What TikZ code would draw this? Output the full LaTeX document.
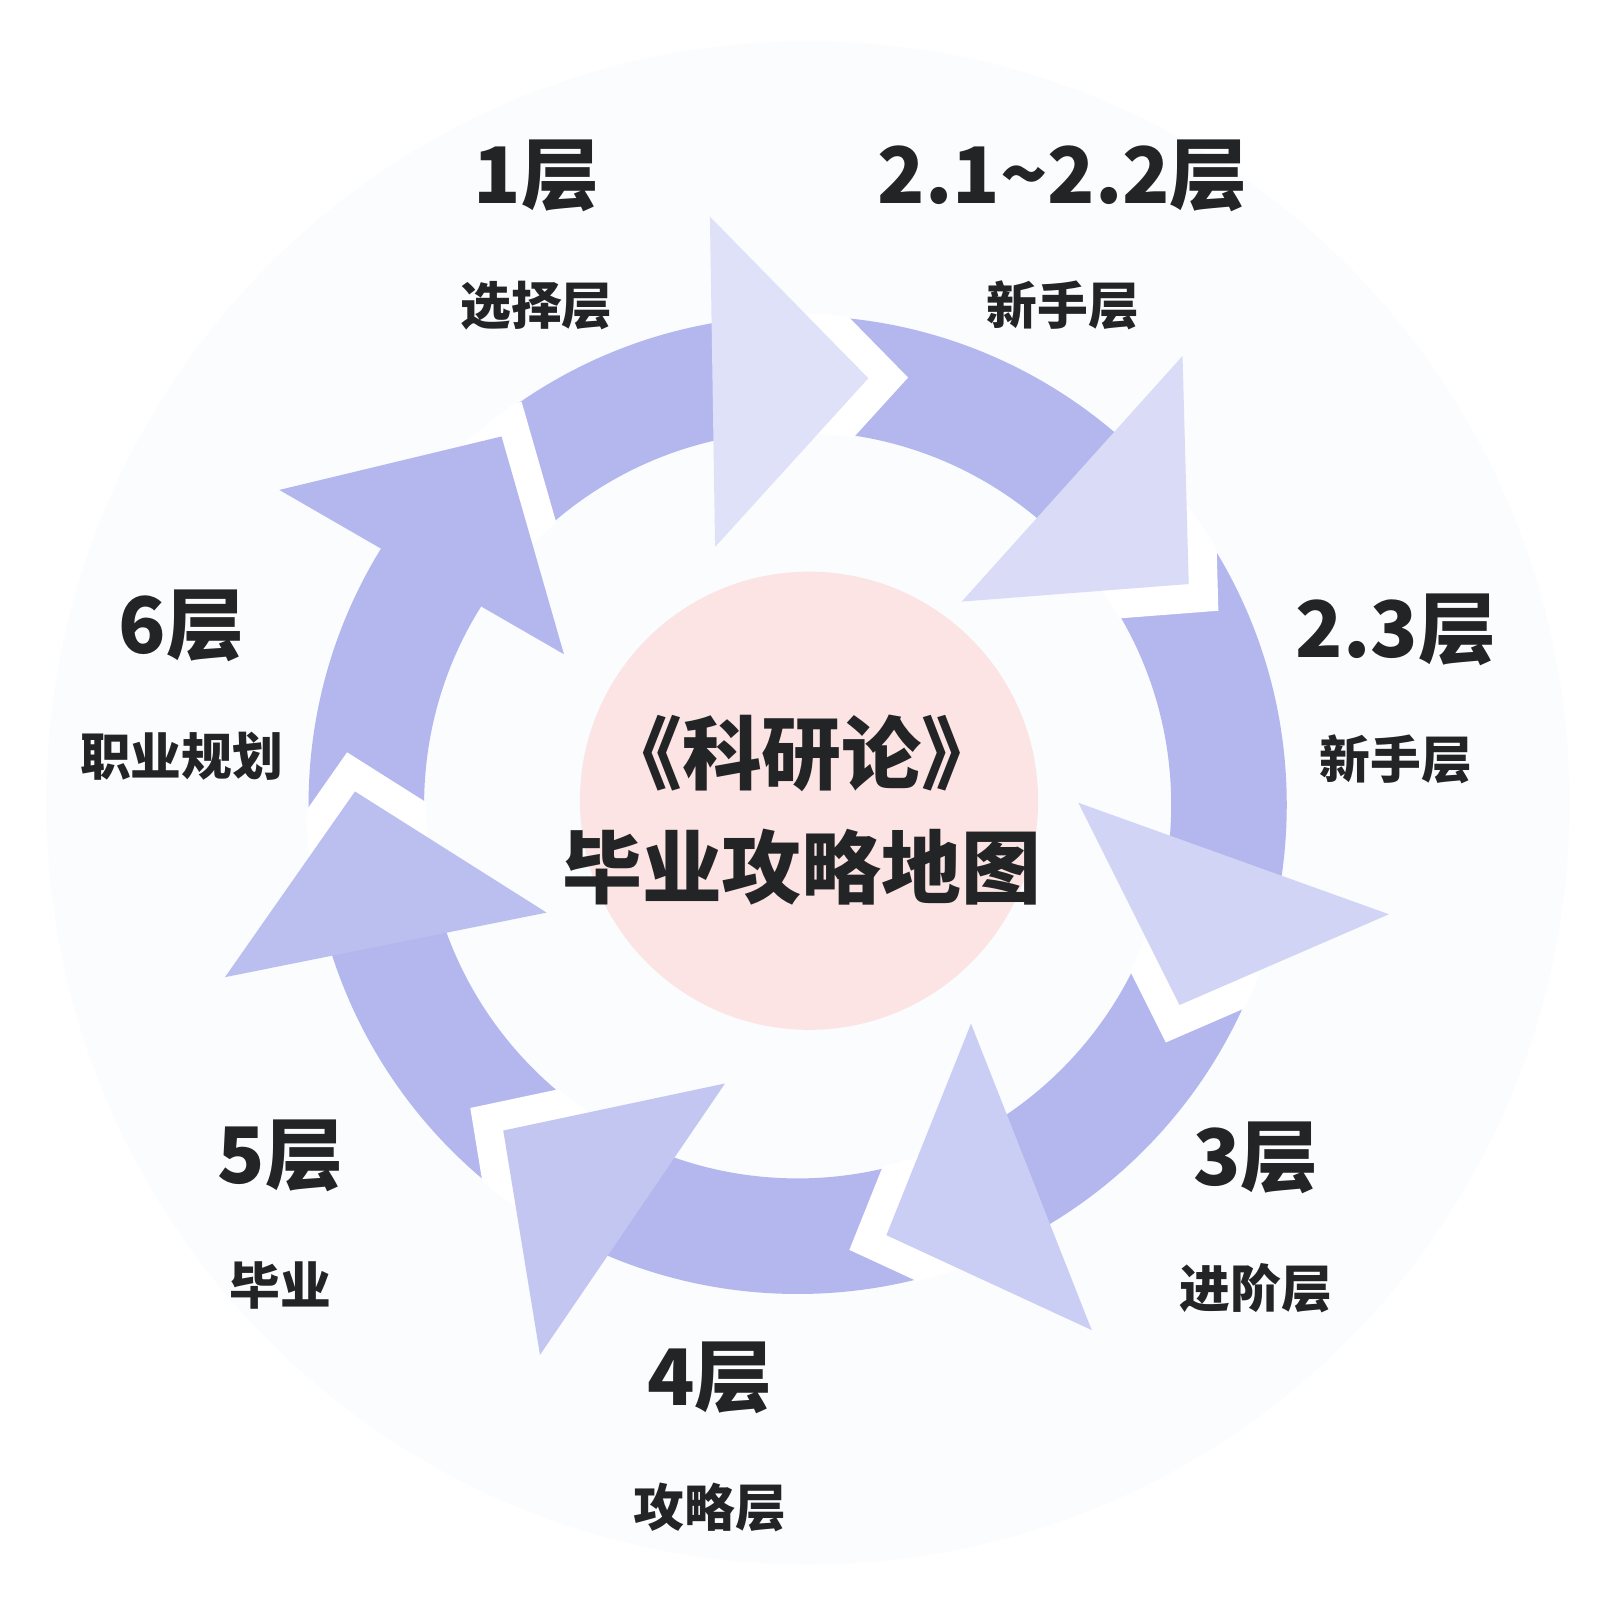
\documentclass[tikz,border=0pt]{standalone}
\usepackage{fontspec}
\setmainfont{Noto Sans CJK SC}
\usetikzlibrary{positioning}
\definecolor{ringc}{RGB}{179,183,238}
\definecolor{pinkc}{RGB}{252,228,228}
\definecolor{bgc}{RGB}{250,252,254}
\definecolor{inkc}{RGB}{34,36,38}

\begin{document}
\begin{tikzpicture}[x=0.1mm, y=-0.1mm, node distance=6.6mm,
  gap/.style={draw=white, line width=5.6mm, line join=miter},
  lvl/.style={font=\fontsize{21.5}{26}\selectfont\bfseries, text=inkc, inner sep=0pt},
  sub/.style={font=\fontsize{14}{17}\selectfont\bfseries, text=inkc, inner sep=0pt},
  ttl/.style={font=\fontsize{22}{26}\selectfont\bfseries, text=inkc, inner sep=0pt}]
  \fill[white] (0,0) rectangle (1568,1552);
  \useasboundingbox (0,0) rectangle (1568,1552);
  \coordinate (o) at (773,780);
  \coordinate (p) at (784,776);
  \fill[bgc] (783,778) circle[radius=73.8mm];
  \fill[pinkc] (p) circle[radius=22.2mm];
  \fill[ringc, even odd rule] (o) circle[radius=47.4mm] (o) circle[radius=36.2mm];
  \foreach \a/\b/\c/\m in {
      {688,210}/{841.5,366.6}/{693,530}/42,
      {1146,345}/{1152,566}/{932,583}/50,
      {1346,886}/{1143,974}/{1045,778}/59,
      {941,992}/{859,1197}/{1058,1289}/68,
      {702.6,1050}/{487.7,1095.6}/{523.3,1313}/79,
      {529.7,884.4}/{344,767}/{218,947}/89,
      {270.7,474.8}/{486,423}/{546.5,634}/100}{
    \begin{scope}[even odd rule]
      \clip (o) circle[radius=47.6mm] (o) circle[radius=36mm];
      \draw[gap] (\a) -- (\b) -- (\c);
    \end{scope}
    \fill[ringc!\m!white] (\a) -- (\b) -- (\c) -- cycle;
  }
  \node[lvl] (l1) at (520,170) {1层};
  \node[sub, below=of l1] (s1) {选择层};
  \node[lvl] (l2) at (1030,170) {2.1\textasciitilde 2.2层};
  \node[sub, below=of l2] (s2) {新手层};
  \node[lvl] (l3) at (1353,610) {2.3层};
  \node[sub, below=of l3] (s3) {新手层};
  \node[lvl] (l4) at (1217,1122) {3层};
  \node[sub, below=of l4] (s4) {进阶层};
  \node[lvl] (l5) at (688,1335) {4层};
  \node[sub, below=of l5] (s5) {攻略层};
  \node[lvl] (l6) at (272,1120) {5层};
  \node[sub, below=of l6] (s6) {毕业};
  \node[lvl] (l7) at (176,607) {6层};
  \node[sub, below=of l7] (s7) {职业规划};
  \node[ttl] (book) at (777,730) {《科研论》};
  \node[ttl, below=3.5mm of book] (map) {毕业攻略地图};
\end{tikzpicture}
\end{document}
